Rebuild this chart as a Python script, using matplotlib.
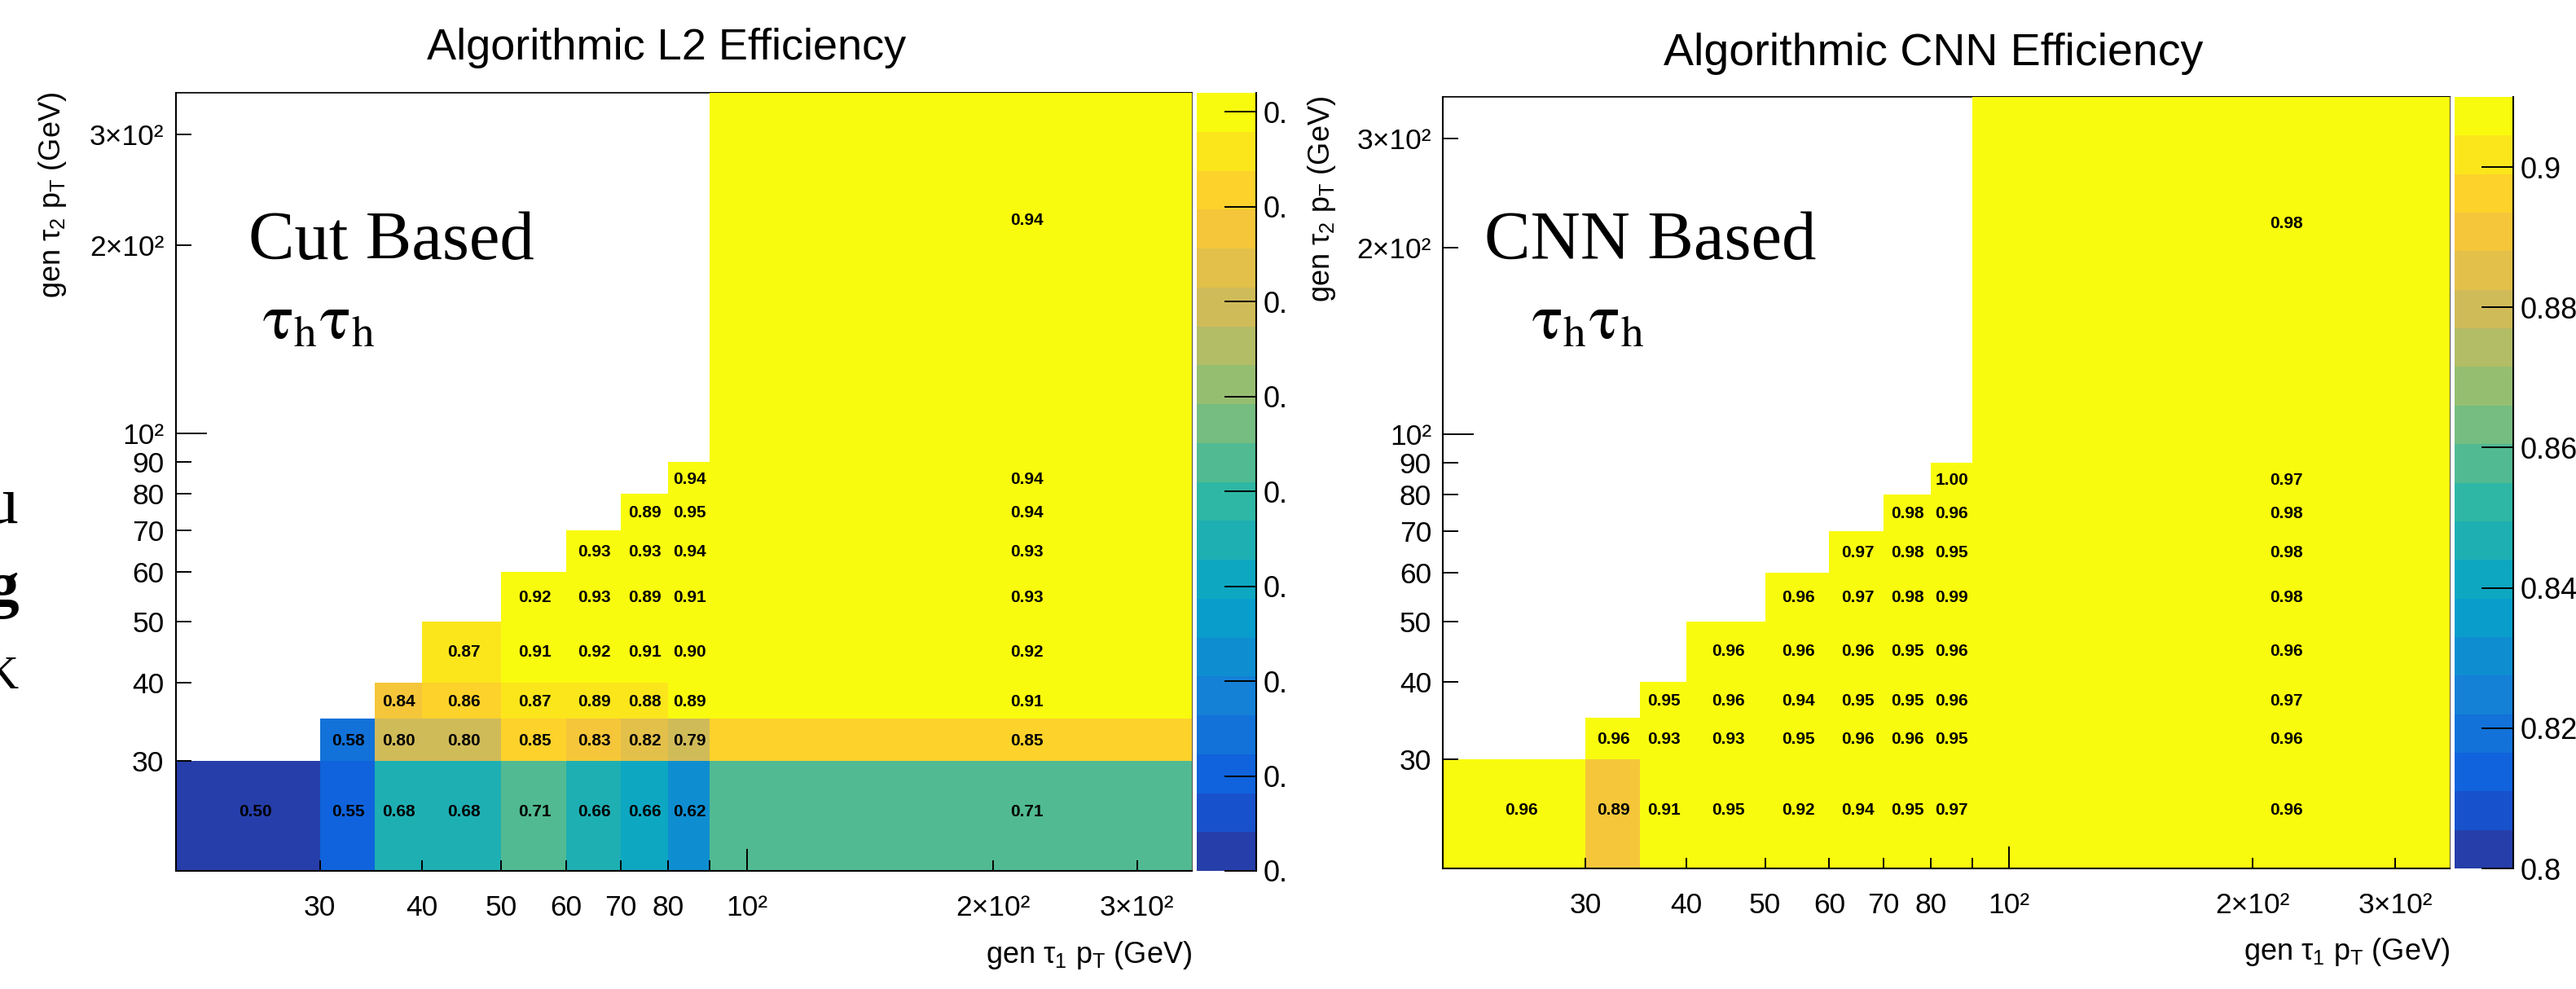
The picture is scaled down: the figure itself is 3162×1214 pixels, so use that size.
import numpy as np
import matplotlib
matplotlib.use("Agg")
import matplotlib.pyplot as plt
from matplotlib.colors import ListedColormap, BoundaryNorm
import matplotlib.transforms as mtransforms

# ---------------- data ----------------
pt_edges = [20, 30, 35, 40, 50, 60, 70, 80, 90, 350]   # same binning for tau1 (x) and tau2 (y)

N = None
# rows: tau2 pT bins (bottom -> top); columns: tau1 pT bins (left -> right)
l2_eff = [
    [0.50, 0.55, 0.68, 0.68, 0.71, 0.6645, 0.66, 0.62, 0.71],
    [N,    0.58, 0.80, 0.80, 0.85, 0.83, 0.82, 0.79, 0.85],
    [N,    N,    0.84, 0.86, 0.87, 0.888, 0.88, 0.89, 0.91],
    [N,    N,    N,    0.87, 0.91, 0.92, 0.91, 0.90, 0.92],
    [N,    N,    N,    N,    0.92, 0.93, 0.89, 0.91, 0.93],
    [N,    N,    N,    N,    N,    0.93, 0.93, 0.94, 0.93],
    [N,    N,    N,    N,    N,    N,    0.89, 0.95, 0.94],
    [N,    N,    N,    N,    N,    N,    N,    0.94, 0.94],
    [N,    N,    N,    N,    N,    N,    N,    N,    0.94],
]
cnn_eff = [
    [0.96, 0.89, 0.91, 0.95, 0.92, 0.94, 0.95, 0.97, 0.96],
    [N,    0.96, 0.93, 0.93, 0.95, 0.96, 0.96, 0.95, 0.96],
    [N,    N,    0.95, 0.96, 0.94, 0.95, 0.95, 0.96, 0.97],
    [N,    N,    N,    0.96, 0.96, 0.96, 0.95, 0.96, 0.96],
    [N,    N,    N,    N,    0.96, 0.97, 0.98, 0.99, 0.98],
    [N,    N,    N,    N,    N,    0.97, 0.98, 0.95, 0.98],
    [N,    N,    N,    N,    N,    N,    0.98, 0.96, 0.98],
    [N,    N,    N,    N,    N,    N,    N,    1.00, 0.97],
    [N,    N,    N,    N,    N,    N,    N,    N,    0.98],
]

axis_range = (20, 350)
major_ticks = [100]
major_labels = ["10²"]
minor_ticks = [30, 40, 50, 60, 70, 80, 90, 200, 300]
x_minor_labels = ["30", "40", "50", "60", "70", "80", "", "2×10²", "3×10²"]
y_minor_labels = ["30", "40", "50", "60", "70", "80", "90", "2×10²", "3×10²"]

l2_zrange = (0.50, 0.91)
cnn_zrange = (0.80, 0.91)
l2_cbar_ticks = [0.50, 0.55, 0.60, 0.65, 0.70, 0.75, 0.80, 0.85, 0.90]
l2_cbar_labels = ["0."] * 9
cnn_cbar_ticks = [0.80, 0.82, 0.84, 0.86, 0.88, 0.90]
cnn_cbar_labels = ["0.8", "0.82", "0.84", "0.86", "0.88", "0.9"]

l2_title = "Algorithmic L2 Efficiency"
cnn_title = "Algorithmic CNN Efficiency"
l2_tag = "Cut Based"
cnn_tag = "CNN Based"
channel_tag = r"$\mathrm{\tau_{h}\tau_{h}}$"
xlabel = r"gen $\mathrm{\tau_{1}}$ p$_{\mathrm{T}}$ (GeV)"
ylabel = r"gen $\mathrm{\tau_{2}}$ p$_{\mathrm{T}}$ (GeV)"

# ---------------- style ----------------
plt.rcParams["font.family"] = ["Liberation Sans", "DejaVu Sans"]
plt.rcParams["mathtext.fontset"] = "custom"
plt.rcParams["mathtext.rm"] = "Liberation Sans"
plt.rcParams["mathtext.it"] = "Liberation Sans:italic"
plt.rcParams["mathtext.bf"] = "Liberation Sans:bold"
plt.rcParams["mathtext.sf"] = "Liberation Sans"

W, H, DPI = 3162, 1214, 100
fig = plt.figure(figsize=(W / DPI, H / DPI), dpi=DPI)
fig.patch.set_facecolor("white")


def fx(px):
    return px / W


def fy(py):
    return 1 - py / H


def rect(x0, y0, x1, y1):
    return [fx(x0), fy(y1), (x1 - x0) / W, (y1 - y0) / H]


# ROOT kBird palette, 20 contour levels
st = [0.0, 0.125, 0.25, 0.375, 0.5, 0.625, 0.75, 0.875, 1.0]
rr = [0.2082, 0.0592, 0.0780, 0.0232, 0.1802, 0.5301, 0.8186, 0.9956, 0.9764]
gg = [0.1664, 0.3599, 0.5041, 0.6419, 0.7178, 0.7492, 0.7328, 0.7862, 0.9832]
bb = [0.5293, 0.8684, 0.8385, 0.7914, 0.6425, 0.4662, 0.3499, 0.1968, 0.0539]
NLEV = 20
tt = [min((k + 0.99) / NLEV, 1.0) for k in range(NLEV)]
pal = [(np.interp(t, st, rr), np.interp(t, st, gg), np.interp(t, st, bb)) for t in tt]


def panel(ax_rect, cb_rect, eff, zr, cticks, clabels, ylab_pad):
    ax = fig.add_axes(ax_rect)
    ax.set_xscale("log")
    ax.set_yscale("log")
    cmap = ListedColormap(pal)
    cmap.set_over(pal[-1])
    bounds = np.linspace(zr[0], zr[1], NLEV + 1)
    norm = BoundaryNorm(bounds, NLEV)
    Z = np.ma.masked_invalid(np.array([[np.nan if v is None else v for v in row] for row in eff], dtype=float))
    mesh = ax.pcolormesh(pt_edges, pt_edges, Z, cmap=cmap, norm=norm,
                         shading="flat", antialiased=False, linewidth=0, zorder=1)
    ax.set_xlim(*axis_range)
    ax.set_ylim(*axis_range)

    # cell labels at linear bin centres
    off = mtransforms.offset_copy(ax.transData, fig=fig, y=-5.4, units="points")
    for j, row in enumerate(eff):
        for i, v in enumerate(row):
            if v is None:
                continue
            xc = 0.5 * (pt_edges[i] + pt_edges[i + 1])
            yc = 0.5 * (pt_edges[j] + pt_edges[j + 1])
            ax.text(xc, yc, f"{v:.2f}", transform=off, ha="center", va="baseline",
                    fontsize=15, fontweight="bold", color="black", zorder=4)

    ax.set_xticks(major_ticks, major_labels)
    ax.set_xticks(minor_ticks, x_minor_labels, minor=True)
    ax.set_yticks(major_ticks, major_labels)
    ax.set_yticks(minor_ticks, y_minor_labels, minor=True)
    ax.tick_params(axis="x", which="major", direction="in", length=19.5, width=1.4,
                   pad=21, labelsize=25.5, top=False)
    ax.tick_params(axis="x", which="minor", direction="in", length=9.6, width=1.4,
                   pad=21, labelsize=25.5, top=False)
    ax.tick_params(axis="y", which="major", direction="in", length=27.4, width=1.4,
                   pad=ylab_pad, labelsize=25.5, right=False)
    ax.tick_params(axis="y", which="minor", direction="in", length=13.7, width=1.4,
                   pad=ylab_pad, labelsize=25.5, right=False)

    for s in ("left", "bottom"):
        ax.spines[s].set_linewidth(1.5)
        ax.spines[s].set_color("black")
        ax.spines[s].set_zorder(5)
    ax.spines["top"].set_linewidth(1.5)
    ax.spines["top"].set_color("black")
    ax.spines["top"].set_zorder(0.5)
    ax.spines["right"].set_linewidth(0.8)
    ax.spines["right"].set_color("#555555")
    ax.spines["right"].set_zorder(5)
    ax.plot([0, 1], [1, 1], transform=ax.transAxes, color="#555555", lw=0.7,
            clip_on=False, zorder=0.8)

    cax = fig.add_axes(cb_rect)
    cb = fig.colorbar(mesh, cax=cax, ticks=cticks)
    cb.set_ticklabels(clabels)
    cb.minorticks_off()
    cb.outline.set_visible(False)
    cax.tick_params(direction="in", length=28, width=1.4, labelsize=26, pad=6,
                    right=True, left=False)
    cax.plot([1, 1], [0, 1], transform=cax.transAxes, color="black", lw=1.5,
             clip_on=False, zorder=5)
    return ax


panel(rect(216, 114, 1463, 1069), rect(1469, 114, 1542, 1069),
      l2_eff, l2_zrange, l2_cbar_ticks, l2_cbar_labels, 10.5)
panel(rect(1771, 119, 3007, 1066), rect(3013, 119, 3085, 1066),
      cnn_eff, cnn_zrange, cnn_cbar_ticks, cnn_cbar_labels, 10)

# titles
fig.text(fx(818), fy(73), l2_title, ha="center", va="baseline", fontsize=39)
fig.text(fx(2373), fy(80), cnn_title, ha="center", va="baseline", fontsize=40)

# axis titles
fig.text(fx(1463), fy(1182), xlabel, ha="right", va="baseline", fontsize=26)
fig.text(fx(3007), fy(1178), xlabel, ha="right", va="baseline", fontsize=26)
fig.text(fx(64), fy(113), ylabel, rotation=90, ha="center", va="top", fontsize=26)
fig.text(fx(1622), fy(118), ylabel, rotation=90, ha="center", va="top", fontsize=26)

# in-plot tags
fig.text(fx(305), fy(318), l2_tag, ha="left", va="baseline", fontsize=61,
         family="Liberation Serif")
fig.text(fx(1822), fy(318), cnn_tag, ha="left", va="baseline", fontsize=61,
         family="Liberation Serif")
fig.text(fx(322), fy(415), channel_tag, ha="left", va="baseline", fontsize=57,
         math_fontfamily="stix")
fig.text(fx(1880), fy(415), channel_tag, ha="left", va="baseline", fontsize=57,
         math_fontfamily="stix")

# fragments of text cut by the left edge of the picture (as in the original)
fig.text(fx(23), fy(642), "u", ha="right", va="baseline", fontsize=60,
         family="Liberation Serif")
fig.text(fx(23), fy(743), "g", ha="right", va="baseline", fontsize=57,
         family="Liberation Serif", fontweight="bold")
fig.text(fx(23), fy(845), "K", ha="right", va="baseline", fontsize=42,
         family="Liberation Serif")

fig.savefig("out.png", dpi=DPI)
